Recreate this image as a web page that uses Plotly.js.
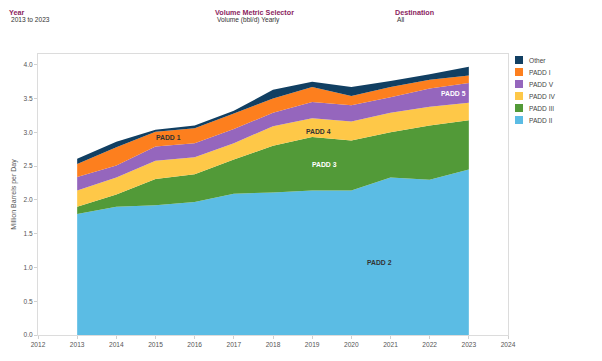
<!DOCTYPE html>
<html>
<head>
<meta charset="utf-8">
<script src="https://cdn.plot.ly/plotly-3.0.1.min.js"></script>
<style>
  html, body { margin: 0; padding: 0; background: #ffffff; }
  #chart { width: 602px; height: 361px; }
</style>
</head>
<body>
<div id="chart"></div>
<script>
// ---- data (million barrels per day, stacked contributions) ----
const years = [2013, 2014, 2015, 2016, 2017, 2018, 2019, 2020, 2021, 2022, 2023];
const paddII  = [1.79, 1.90, 1.92, 1.97, 2.09, 2.11, 2.14, 2.14, 2.33, 2.30, 2.45];
const paddIII = [0.11, 0.18, 0.39, 0.41, 0.51, 0.69, 0.79, 0.74, 0.67, 0.80, 0.73];
const paddIV  = [0.24, 0.25, 0.27, 0.25, 0.24, 0.29, 0.28, 0.28, 0.29, 0.28, 0.26];
const paddV   = [0.20, 0.18, 0.21, 0.21, 0.21, 0.20, 0.24, 0.24, 0.23, 0.27, 0.29];
const paddI   = [0.19, 0.27, 0.22, 0.22, 0.23, 0.21, 0.22, 0.14, 0.15, 0.13, 0.11];
const other   = [0.08, 0.08, 0.03, 0.04, 0.04, 0.13, 0.08, 0.13, 0.09, 0.08, 0.13];

const seriesNames = ["PADD II", "PADD III", "PADD IV", "PADD V", "PADD I", "Other"];
const seriesValues = [paddII, paddIII, paddIV, paddV, paddI, other];
const seriesColors = ["#5bbce4", "#529a38", "#fec848", "#9566bd", "#fd7f1e", "#113f62"];

// in-chart area labels
const labelTexts = ["PADD 1", "PADD 4", "PADD 3", "PADD 2", "PADD 5"];
const labelX     = [2015.33, 2019.15, 2019.32, 2020.72, 2022.6];
const labelY     = [2.93, 3.01, 2.53, 1.08, 3.575];
const labelColor = ["#333333", "#333333", "#ffffff", "#333333", "#ffffff"];

// header filter captions
const headerTitles = ["Year", "Volume Metric Selector", "Destination"];
const headerValues = ["2013 to 2023", "Volume (bbl/d) Yearly", "All"];
const headerPx     = [7, 213, 393];

const xTicks = [2012, 2013, 2014, 2015, 2016, 2017, 2018, 2019, 2020, 2021, 2022, 2023, 2024];

// ---- layout geometry ----
const W = 602, H = 361;
const M = {l: 38, r: 94, t: 54, b: 26};
const PW = W - M.l - M.r, PH = H - M.t - M.b;
const px2x = p => (p - M.l) / PW;
const py2y = p => (H - M.b - p) / PH;

const FONT = "Liberation Sans, Arial, sans-serif";

const traces = seriesNames.map((name, i) => ({
  type: "scatter",
  x: years,
  y: seriesValues[i],
  name: name,
  stackgroup: "one",
  mode: "none",
  fillcolor: seriesColors[i],
  line: {width: 0, shape: "linear"},
  hoverinfo: "x+y+name"
}));

const annotations = [];
labelTexts.forEach((t, i) => {
  annotations.push({
    x: labelX[i], y: labelY[i], xref: "x", yref: "y",
    text: "<b>" + t + "</b>", showarrow: false,
    font: {family: FONT, size: 6.8, color: labelColor[i]}
  });
});
headerTitles.forEach((t, i) => {
  annotations.push({
    x: px2x(headerPx[i]), y: py2y(12), xref: "paper", yref: "paper",
    xanchor: "left", yanchor: "middle", showarrow: false,
    text: "<b>" + t + "</b>",
    font: {family: FONT, size: 7.2, color: "#8b1e5e"}
  });
  annotations.push({
    x: px2x(headerPx[i] + 1.5), y: py2y(20), xref: "paper", yref: "paper",
    xanchor: "left", yanchor: "middle", showarrow: false,
    text: headerValues[i],
    font: {family: FONT, size: 6.6, color: "#333333"}
  });
});

// custom legend (top entry = last stacked series)
const shapes = [];
const legendOrder = seriesNames.map((_, i) => i).reverse();
legendOrder.forEach((si, row) => {
  const cy = 60 + row * 12;
  shapes.push({
    type: "rect", xref: "paper", yref: "paper",
    x0: px2x(515), x1: px2x(523), y0: py2y(cy + 4), y1: py2y(cy - 4),
    fillcolor: seriesColors[si], line: {width: 0}
  });
  annotations.push({
    x: px2x(527), y: py2y(cy), xref: "paper", yref: "paper",
    xanchor: "left", yanchor: "middle", showarrow: false,
    text: seriesNames[si],
    font: {family: FONT, size: 6.6, color: "#444444"}
  });
});

const layout = {
  width: W, height: H,
  margin: M,
  paper_bgcolor: "#ffffff",
  plot_bgcolor: "#ffffff",
  showlegend: false,
  font: {family: FONT, size: 6.6, color: "#555555"},
  xaxis: {
    range: [2012, 2024],
    tickvals: xTicks,
    ticktext: xTicks.map(String),
    showgrid: false, zeroline: false,
    showline: true, mirror: true, linecolor: "#dcdcdc", linewidth: 1,
    ticks: "outside", ticklen: 3, tickcolor: "#d0d0d0",
    tickfont: {family: FONT, size: 6.6, color: "#555555"}
  },
  yaxis: {
    range: [0, 4.16],
    dtick: 0.5, tick0: 0, tickformat: ".1f",
    showgrid: false, zeroline: false,
    showline: true, mirror: true, linecolor: "#dcdcdc", linewidth: 1,
    ticks: "outside", ticklen: 3, tickcolor: "#d0d0d0",
    tickfont: {family: FONT, size: 6.6, color: "#555555"},
    title: {text: "Million Barrels per Day", standoff: 6,
            font: {family: FONT, size: 7, color: "#555555"}}
  },
  annotations: annotations,
  shapes: shapes
};

Plotly.newPlot("chart", traces, layout, {displayModeBar: false, staticPlot: true});
</script>
</body>
</html>
